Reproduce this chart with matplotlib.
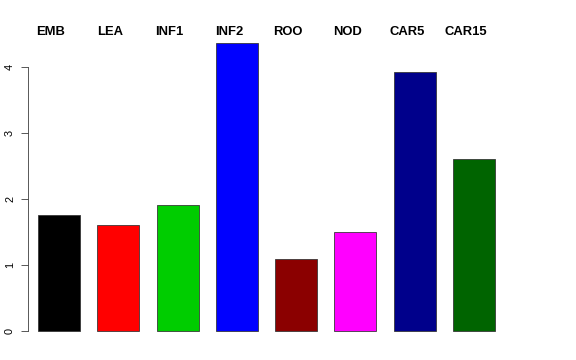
import matplotlib
matplotlib.use("Agg")
import matplotlib.pyplot as plt

categories = ["EMB", "LEA", "INF1", "INF2", "ROO", "NOD", "CAR5", "CAR15"]
values = [1.76, 1.61, 1.91, 4.36, 1.09, 1.50, 3.92, 2.61]
colors = ["#000000", "#FF0000", "#00CD00", "#0000FF", "#8B0000", "#FF00FF", "#00008B", "#006400"]
yticks = [0, 1, 2, 3, 4]

plt.rcParams['font.family'] = ['Liberation Sans', 'DejaVu Sans']

fig = plt.figure(figsize=(8, 5), dpi=72)
W, H = 576, 360
L, R, B, T = 28, 520, 340, 30
ax = fig.add_axes([L / W, 1 - B / H, (R - L) / W, (B - T) / H])

pxu = 59.3
x0 = 59
xs = list(range(len(categories)))
ax.bar(xs, values, width=42 / pxu, color=colors, edgecolor="#333333", linewidth=0.8)

ax.set_xlim((L - x0) / pxu, (R - x0) / pxu)
ax.set_ylim(-(B - 331) / 66, (331 - T) / 66)

for s in ["top", "right", "bottom"]:
    ax.spines[s].set_visible(False)
ax.spines["left"].set_bounds(0, 4)
ax.spines["left"].set_color("#333333")
ax.set_xticks([])
ax.set_yticks(yticks)
ax.set_yticklabels([str(t) for t in yticks], rotation=90, va="center", fontsize=11)
ax.tick_params(axis="y", length=7, pad=6, color="#333333")

for i, c in enumerate(categories):
    ax.text(i - 8 / pxu, 4.56 - 2 / 66, c, ha="center", va="center",
            fontsize=13, fontweight="bold", transform=ax.transData, clip_on=False)

fig.savefig("out.png", dpi=72)
